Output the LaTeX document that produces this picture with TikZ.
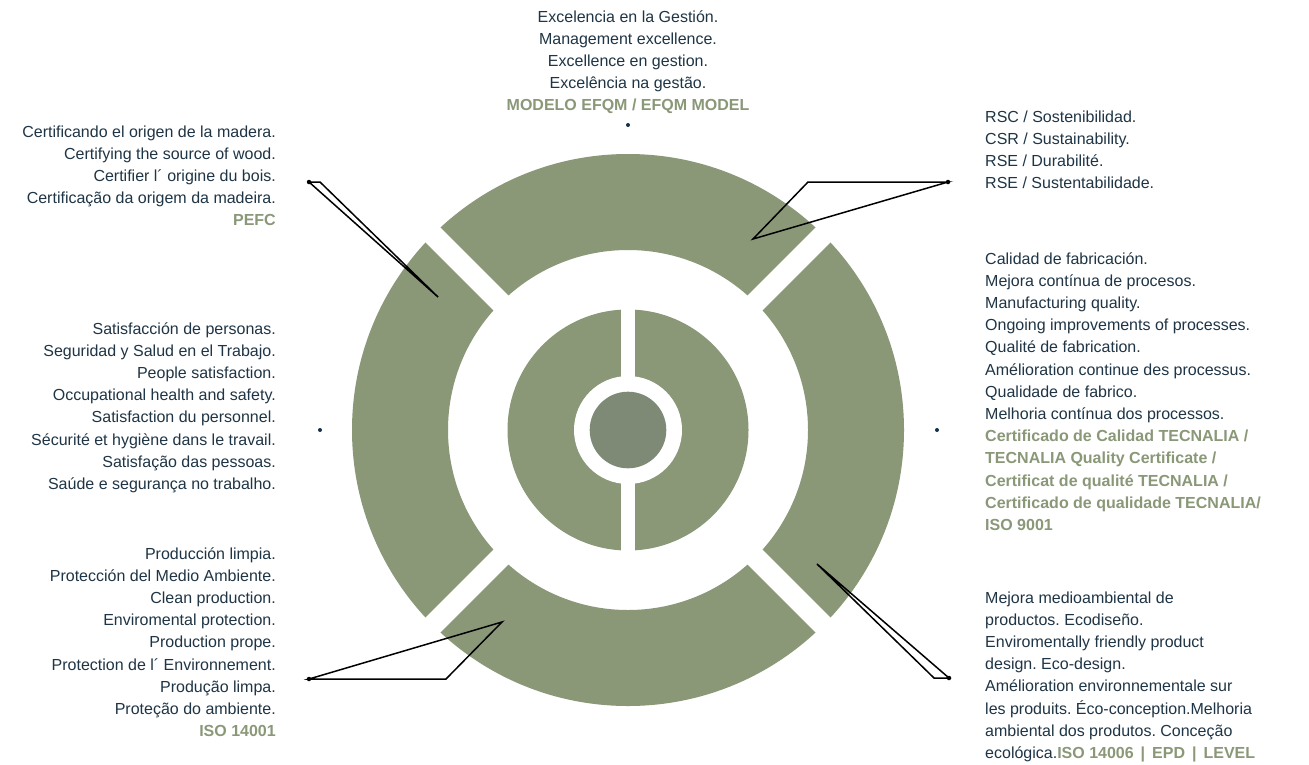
\documentclass[tikz,border=0pt]{standalone}
\usepackage{fontspec}
\setmainfont{Liberation Sans}
\definecolor{seg}{HTML}{8A9878}
\definecolor{core}{HTML}{7E8A76}
\definecolor{txt}{HTML}{1F3545}
\definecolor{dotc}{HTML}{14304A}
\newcommand{\hl}[1]{\textcolor{seg}{\textbf{#1}}}
\frenchspacing
\begin{document}
\begin{tikzpicture}[x=1pt,y=-1pt,
  lbl/.style={inner sep=0pt, text=txt, font=\fontsize{16}{22.2}\selectfont},
  lead/.style={draw=black, line width=1.5pt, line join=miter},
  enddot/.style={circle, fill=black, inner sep=0pt, minimum size=4.5pt},
  navdot/.style={circle, fill=dotc, inner sep=0pt, minimum size=4pt},
  gap/.style={fill=white}]
\useasboundingbox[fill=white] (0,0) rectangle (1309,764);
\coordinate (c) at (628,430);
% outer ring
\fill[seg, even odd rule] (c) circle[radius=276pt] (c) circle[radius=180pt];
% diagonal gaps
\fill[gap, rotate around={45:(c)}] (328,419.5) rectangle (928,440.5);
\fill[gap, rotate around={-45:(c)}] (328,419.5) rectangle (928,440.5);
% inner disc
\fill[seg] (c) circle[radius=120.5pt];
\fill[gap] (620.6,300) rectangle (635.2,560);
\fill[gap] (c) circle[radius=54pt];
\fill[core] (c) circle[radius=38.3pt];
% leader lines
\node[enddot] (d1) at (309,182) {};
\coordinate (a1) at (320,182);
\coordinate (b1) at (438,297);
\draw[lead] (d1.center) -- (a1) -- (b1) -- cycle;
\node[enddot] (d2) at (948,182) {};
\coordinate (a2) at (808,182);
\coordinate (b2) at (753,239);
\draw[lead] (d2.center) -- (a2) -- (b2) -- cycle;
\node[enddot] (d3) at (309,679) {};
\coordinate (a3) at (446,679);
\coordinate (b3) at (502,622);
\draw[lead] (d3.center) -- (a3) -- (b3) -- cycle;
\node[enddot] (d4) at (949,678) {};
\coordinate (a4) at (934,678);
\coordinate (b4) at (817,564);
\draw[lead] (d4.center) -- (a4) -- (b4) -- cycle;
% small dots
\node[navdot] (ptop) at (628,125) {};
\node[navdot] (pleft) at (320,430) {};
\node[navdot] (pright) at (937,430) {};
% texts
\node[lbl, anchor=base] (ttop) at (628,22) {\begin{tabular}[t]{@{}c@{}}
Excelencia en la Gestión.\\
Management excellence.\\
Excellence en gestion.\\
Excelência na gestão.\\
\hl{MODELO EFQM / EFQM MODEL}\end{tabular}};
\node[lbl, anchor=base east] (tpefc) at (276,137) {\begin{tabular}[t]{@{}r@{}}
Certificando el origen de la madera.\\
Certifying the source of wood.\\
Certifier l´ origine du bois.\\
Certificação da origem da madeira.\\
\hl{PEFC}\end{tabular}};
\node[lbl, anchor=base east] (tpers) at (276,334) {\begin{tabular}[t]{@{}r@{}}
Satisfacción de personas.\\
Seguridad y Salud en el Trabajo.\\
People satisfaction.\\
Occupational health and safety.\\
Satisfaction du personnel.\\
Sécurité et hygiène dans le travail.\\
Satisfação das pessoas.\\
Saúde e segurança no trabalho.\end{tabular}};
\node[lbl, anchor=base east] (tprod) at (276,559) {\begin{tabular}[t]{@{}r@{}}
Producción limpia.\\
Protección del Medio Ambiente.\\
Clean production.\\
Enviromental protection.\\
Production prope.\\
Protection de l´ Environnement.\\
Produção limpa.\\
Proteção do ambiente.\\
\hl{ISO 14001}\end{tabular}};
\node[lbl, anchor=base west] (trsc) at (985,122) {\begin{tabular}[t]{@{}l@{}}
RSC / Sostenibilidad.\\
CSR / Sustainability.\\
RSE / Durabilité.\\
RSE / Sustentabilidade.\end{tabular}};
\node[lbl, anchor=base west] (tcal) at (985,264) {\begin{tabular}[t]{@{}l@{}}
Calidad de fabricación.\\
Mejora contínua de procesos.\\
Manufacturing quality.\\
Ongoing improvements of processes.\\
Qualité de fabrication.\\
Amélioration continue des processus.\\
Qualidade de fabrico.\\
Melhoria contínua dos processos.\\
\hl{Certificado de Calidad TECNALIA /}\\
\hl{TECNALIA Quality Certificate /}\\
\hl{Certificat de qualité TECNALIA /}\\
\hl{Certificado de qualidade TECNALIA/}\\
\hl{ISO 9001}\end{tabular}};
\node[lbl, anchor=base west] (teco) at (985,603) {\begin{tabular}[t]{@{}l@{}}
Mejora medioambiental de\\
productos. Ecodiseño.\\
Enviromentally friendly product\\
design. Eco-design.\\
Amélioration environnementale sur\\
les produits. Éco-conception.Melhoria\\
ambiental dos produtos. Conceção\\
ecológica.\hl{ISO 14006\hspace{7pt}|\hspace{7pt}EPD\hspace{7pt}|\hspace{7pt}LEVEL}\end{tabular}};
\end{tikzpicture}
\end{document}
